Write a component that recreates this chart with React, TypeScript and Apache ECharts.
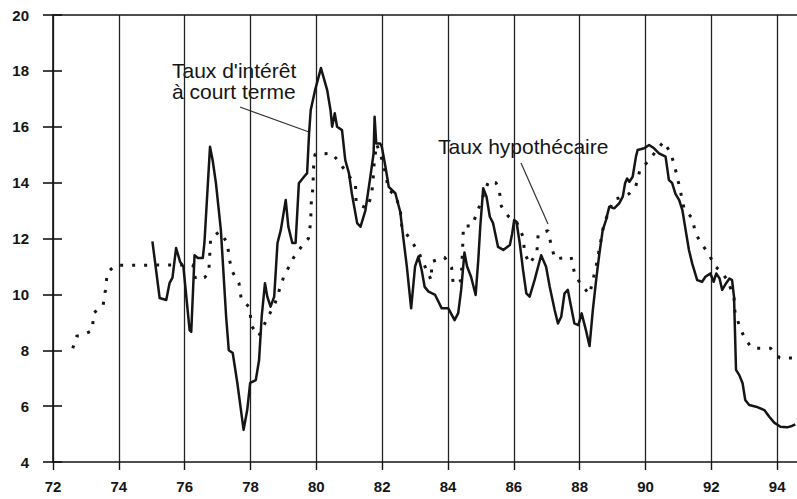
import React, { useEffect, useRef } from "react";
import * as echarts from "echarts";

// Taux d'intérêt à court terme (solid line): years and values
const shortYears = [
  75.02, 75.24, 75.44, 75.54, 75.63, 75.74, 75.86, 75.96, 76.15, 76.2, 76.3, 76.4, 76.55, 76.6, 76.77,
  76.85, 76.95, 77.1, 77.26, 77.34, 77.46, 77.6, 77.79, 77.9, 77.99, 78.16, 78.26, 78.34, 78.44, 78.51,
  78.61, 78.72, 78.82, 78.92, 79.07, 79.15, 79.27, 79.37, 79.47, 79.62, 79.72, 79.78, 79.83, 79.96, 80.14,
  80.33, 80.43, 80.48, 80.56, 80.63, 80.78, 80.88, 80.99, 81.08, 81.24, 81.34, 81.49, 81.64, 81.74, 81.77,
  81.82, 81.94, 81.99, 82.1, 82.2, 82.4, 82.55, 82.65, 82.75, 82.88, 83.0, 83.1, 83.2, 83.29, 83.41,
  83.61, 83.81, 84.01, 84.2, 84.31, 84.4, 84.5, 84.58, 84.7, 84.84, 84.92, 84.98, 85.07, 85.17, 85.27,
  85.37, 85.52, 85.68, 85.88, 85.95, 86.01, 86.08, 86.18, 86.28, 86.38, 86.48, 86.63, 86.83, 86.98, 87.09,
  87.24, 87.34, 87.44, 87.54, 87.64, 87.74, 87.84, 87.96, 88.06, 88.19, 88.3, 88.4, 88.5, 88.6, 88.7,
  88.8, 88.9, 89.05, 89.2, 89.31, 89.38, 89.44, 89.51, 89.61, 89.71, 89.76, 89.96, 90.11, 90.26, 90.41,
  90.61, 90.71, 90.81, 90.91, 91.02, 91.12, 91.22, 91.32, 91.42, 91.57, 91.72, 91.82, 91.97, 92.07, 92.15,
  92.25, 92.33, 92.45, 92.55, 92.63, 92.69, 92.75, 92.85, 92.95, 93.03, 93.15, 93.36, 93.61, 93.76, 93.91,
  94.1, 94.3, 94.45, 94.55,
];
const shortValues = [
  11.9, 9.87, 9.8, 10.4, 10.6, 11.66, 11.17, 11.0, 8.72, 8.66, 11.4, 11.3, 11.3, 11.84, 15.28,
  14.8, 13.98, 12.3, 9.2, 8.0, 7.9, 6.83, 5.15, 5.86, 6.83, 6.93, 7.64, 9.2, 10.4, 9.92,
  9.56, 9.92, 11.84, 12.3, 13.38, 12.42, 11.84, 11.84, 13.98, 14.2, 14.34, 15.77, 16.6, 17.3, 18.1,
  17.31, 16.6, 16.0, 16.48, 16.0, 15.88, 14.8, 14.34, 13.6, 12.55, 12.42, 13.0, 14.2, 15.05, 16.36,
  15.4, 15.4, 15.28, 14.57, 13.85, 13.62, 12.95, 11.95, 10.99, 9.5, 11.0, 11.35, 10.87, 10.27, 10.1,
  9.98, 9.5, 9.5, 9.08, 9.33, 10.16, 11.5, 11.0, 10.63, 9.98, 11.23, 12.42, 13.8, 13.5, 12.78,
  12.55, 11.7, 11.59, 11.77, 12.18, 12.66, 12.6, 11.83, 10.87, 10.04, 9.92, 10.51, 11.4, 10.99, 10.27,
  9.44, 8.96, 9.2, 10.04, 10.16, 9.56, 8.96, 8.9, 9.32, 8.72, 8.15, 9.44, 10.51, 11.47, 12.3,
  12.66, 13.14, 13.08, 13.26, 13.5, 13.98, 14.15, 14.03, 14.21, 14.93, 15.17, 15.23, 15.35, 15.23, 15.05,
  14.93, 14.1, 13.98, 13.6, 13.38, 13.02, 12.3, 11.59, 11.1, 10.51, 10.45, 10.63, 10.75, 10.45, 10.75,
  10.57, 10.16, 10.4, 10.57, 10.51, 9.9, 7.3, 7.11, 6.82, 6.22, 6.04, 5.98, 5.86, 5.62, 5.41,
  5.26, 5.24, 5.29, 5.35,
];

// Taux hypothécaire (dotted line): years and values
const mortgageYears = [
  72.6, 72.72, 72.82, 73.19, 73.24, 73.52, 73.59, 73.65, 73.9, 74.5, 75.1, 75.7, 76.25, 76.33, 76.6,
  76.73, 76.76, 76.79, 77.05, 77.3, 77.35, 77.45, 77.65, 77.72, 77.97, 78.03, 78.25, 78.46, 78.75, 79.0,
  79.3, 79.6, 79.76, 79.83, 79.84, 79.9, 79.91, 79.96, 80.48, 80.9, 81.19, 81.21, 81.54, 81.68, 81.73,
  81.76, 81.83, 81.95, 82.05, 82.2, 82.4, 82.55, 82.6, 82.8, 83.1, 83.3, 83.49, 83.51, 83.89, 84.11,
  84.16, 84.4, 84.45, 84.47, 84.73, 85.0, 85.24, 85.45, 85.55, 85.62, 85.83, 86.08, 86.28, 86.33, 86.48,
  86.7, 86.74, 87.04, 87.14, 87.25, 87.74, 87.84, 88.02, 88.3, 88.5, 88.73, 89.03, 89.2, 89.5, 89.7,
  89.83, 90.07, 90.55, 90.77, 90.89, 91.02, 91.17, 91.42, 91.52, 91.72, 91.93, 92.08, 92.3, 92.5, 92.69,
  92.72, 92.87, 93.02, 93.24, 93.8, 94.08, 94.6,
];
const mortgageValues = [
  8.07, 8.51, 8.51, 8.7, 9.34, 9.6, 10.13, 10.78, 11.04, 11.04, 11.05, 11.05, 11.05, 10.54, 10.6,
  10.75, 11.37, 12.0, 12.24, 11.85, 11.29, 10.81, 10.4, 9.82, 9.54, 8.87, 8.51, 9.02, 9.7, 10.6,
  11.3, 11.8, 12.0, 12.6, 13.2, 13.85, 14.48, 15.02, 15.05, 14.4, 13.91, 13.26, 13.08, 13.56, 14.2,
  14.75, 15.38, 15.0, 14.6, 13.73, 13.56, 13.02, 12.4, 12.06, 11.53, 11.0, 10.51, 11.17, 11.33, 10.95,
  10.36, 10.5, 11.83, 12.45, 12.45, 13.3, 14.07, 14.0, 13.8, 13.16, 12.8, 12.6, 12.06, 11.47, 11.09,
  11.5, 12.16, 12.28, 11.73, 11.27, 11.34, 10.78, 10.38, 10.0, 11.0, 12.48, 13.4, 13.45, 13.6, 13.85,
  14.45, 14.75, 15.47, 15.05, 14.57, 13.91, 13.08, 12.72, 12.18, 11.77, 11.45, 11.05, 10.8, 10.5, 9.86,
  9.35, 8.82, 8.41, 8.07, 8.07, 7.72, 7.72,
];

const X_MIN = 72;
const X_MAX = 96;
const Y_MIN = 4;
const Y_MAX = 20;

const shortLabel = ["Taux d'intérêt", "à court terme"];
const mortgageLabel = "Taux hypothécaire";

const FONT = "'Liberation Sans', Arial, Helvetica, sans-serif";
const INK = "#151515";

export default function App() {
  const ref = useRef<HTMLDivElement>(null);

  useEffect(() => {
    if (!ref.current) return;
    const chart = echarts.init(ref.current, undefined, { renderer: "svg" });
    const shortData = shortYears.map((x, i) => [x, shortValues[i]]);
    const mortgageData = mortgageYears.map((x, i) => [x, mortgageValues[i]]);

    chart.setOption({
      animation: false,
      backgroundColor: "#ffffff",
      grid: { left: 53, right: 0, top: 15, bottom: 37, containLabel: false },
      xAxis: [
        {
          type: "value",
          min: X_MIN,
          max: X_MAX,
          interval: 2,
          position: "bottom",
          axisLine: { show: true, lineStyle: { color: INK, width: 1.6 } },
          axisTick: { show: true, length: 8, lineStyle: { color: INK, width: 1.4 } },
          axisLabel: {
            show: true,
            margin: 17,
            color: INK,
            fontSize: 15,
            fontWeight: "bold",
            fontFamily: FONT,
            formatter: (v: number) => (v <= 94 ? String(v) : ""),
          },
          splitLine: { show: true, lineStyle: { color: "#222", width: 1.3 } },
        },
        {
          type: "value",
          min: X_MIN,
          max: X_MAX,
          interval: 2,
          position: "top",
          axisLine: { show: true, lineStyle: { color: INK, width: 1.6 } },
          axisTick: { show: false },
          axisLabel: { show: false },
          splitLine: { show: false },
        },
      ],
      yAxis: [
        {
          type: "value",
          min: Y_MIN,
          max: Y_MAX,
          interval: 2,
          position: "left",
          axisLine: { show: true, lineStyle: { color: INK, width: 1.6 } },
          axisTick: { show: true, length: 10, lineStyle: { color: INK, width: 1.6 } },
          axisLabel: { show: true, margin: 24, color: INK, fontSize: 15, fontWeight: "bold", fontFamily: FONT },
          splitLine: { show: false },
        },
        {
          type: "value",
          min: Y_MIN,
          max: Y_MAX,
          interval: 2,
          position: "left",
          axisLine: { show: false },
          axisTick: { show: true, inside: true, length: 9, lineStyle: { color: INK, width: 1.6 } },
          axisLabel: { show: false },
          splitLine: { show: false },
        },
      ],
      series: [
        {
          name: "Taux hypothécaire",
          type: "line",
          data: mortgageData,
          showSymbol: false,
          symbol: "none",
          lineStyle: { color: INK, width: 3, type: [3, 9], cap: "butt" },
          z: 2,
        },
        {
          name: "Taux d'intérêt à court terme",
          type: "line",
          data: shortData,
          showSymbol: false,
          symbol: "none",
          lineStyle: { color: INK, width: 2.5, join: "round" },
          z: 3,
        },
      ],
      graphic: [
        {
          type: "text",
          left: 172,
          top: 60,
          style: {
            text: shortLabel.join("\n"),
            font: `21px ${FONT}`,
            fill: INK,
            lineHeight: 21,
          },
        },
        {
          type: "line",
          shape: { x1: 240, y1: 107, x2: 309, y2: 132 },
          style: { stroke: "#333", lineWidth: 1.2 },
        },
        {
          type: "text",
          left: 438,
          top: 136,
          style: { text: mortgageLabel, font: `21px ${FONT}`, fill: INK },
        },
        {
          type: "line",
          shape: { x1: 521, y1: 163, x2: 548, y2: 224 },
          style: { stroke: "#333", lineWidth: 1.2 },
        },
      ],
    });
    return () => chart.dispose();
  }, []);

  return (
    <div style={{ position: "fixed", left: 0, top: 0, width: 797, height: 499, overflow: "hidden", background: "#fff" }}>
      <div ref={ref} style={{ position: "absolute", left: 0, top: 0, width: 846, height: 499 }} />
    </div>
  );
}
